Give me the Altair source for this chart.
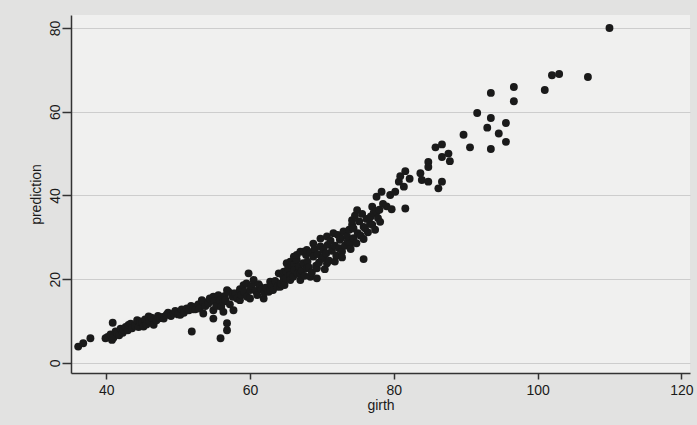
import altair as alt
import pandas as pd

girth = [
    36.1, 36.8, 37.8, 39.9, 40.2, 40.6, 40.8, 40.9, 41.0, 41.3, 41.5, 41.8, 42.0, 42.3, 42.4, 42.7,
    43.0, 43.1, 43.4, 43.6, 44.0, 44.3, 44.5, 44.7, 45.0, 45.2, 45.4, 45.6, 45.9, 46.0, 46.3, 46.6,
    47.0, 47.2, 47.5, 47.8, 48.0, 48.4, 48.6, 49.0, 49.4, 49.6, 50.0, 50.3, 50.5, 50.8, 51.2, 51.5,
    51.8, 51.9, 52.1, 52.1, 52.4, 52.8, 53.0, 53.3, 53.5, 53.5, 53.8, 54.2, 54.4, 54.9, 54.9, 54.9,
    55.0, 55.3, 55.6, 55.8, 55.9, 56.0, 56.3, 56.3, 56.5, 56.6, 56.8, 56.8, 56.8, 57.0, 57.2, 57.6,
    57.7, 57.7, 58.0, 58.2, 58.6, 58.6, 58.8, 59.1, 59.2, 59.5, 59.6, 59.8, 60.0, 60.0, 60.2, 60.5,
    60.8, 61.0, 61.2, 61.4, 61.6, 61.9, 62.0, 62.2, 62.6, 62.8, 62.8, 63.0, 63.2, 63.5, 63.8, 64.0,
    64.2, 64.3, 64.6, 64.7, 64.7, 64.8, 65.0, 65.1, 65.1, 65.3, 65.6, 65.6, 65.6, 65.8, 66.0, 66.1,
    66.1, 66.2, 66.5, 66.5, 66.6, 66.8, 67.0, 67.0, 67.0, 67.2, 67.4, 67.4, 67.6, 67.8, 67.9, 67.9,
    68.0, 68.2, 68.4, 68.4, 68.6, 68.8, 68.8, 69.0, 69.2, 69.3, 69.3, 69.4, 69.6, 69.8, 69.8, 70.0,
    70.2, 70.2, 70.4, 70.6, 70.7, 70.7, 70.8, 71.0, 71.2, 71.4, 71.6, 71.8, 71.8, 72.0, 72.2, 72.4,
    72.5, 72.6, 72.8, 72.8, 73.0, 73.2, 73.5, 73.6, 73.8, 73.9, 74.0, 74.2, 74.2, 74.4, 74.4, 74.6,
    74.8, 74.9, 75.0, 75.2, 75.4, 75.6, 75.8, 75.8, 75.8, 76.0, 76.2, 76.4, 76.7, 76.8, 77.0, 77.0,
    77.2, 77.4, 77.6, 77.6, 77.8, 78.0, 78.1, 78.3, 78.5, 79.0, 79.5, 79.7, 80.2, 80.7, 80.9, 81.4,
    81.6, 81.6, 82.2, 83.7, 83.9, 84.8, 84.8, 84.8, 85.8, 86.2, 86.7, 86.7, 86.7, 87.6, 87.8, 89.7,
    90.6, 91.6, 93.0, 93.5, 93.5, 93.5, 94.6, 95.6, 95.6, 96.7, 96.7, 101.0, 102.0, 103.0, 107.0, 110.0,
]
prediction = [
    3.9, 4.7, 5.9, 5.9, 6.2, 6.8, 5.5, 9.6, 6.0, 7.5, 7.1, 6.6, 8.2, 7.2, 7.9, 8.6,
    7.8, 9.1, 9.4, 8.3, 8.9, 10.2, 8.6, 9.9, 9.6, 8.7, 10.4, 9.2, 11.1, 10.0, 10.8, 9.1,
    10.2, 11.2, 10.7, 11.0, 10.6, 11.5, 12.0, 11.2, 11.8, 12.4, 11.6, 11.5, 12.8, 12.0, 13.0, 12.6,
    13.6, 7.5, 13.4, 12.8, 12.8, 14.0, 13.0, 15.0, 14.6, 11.8, 13.6, 14.2, 15.4, 15.8, 12.6, 10.6,
    14.8, 13.6, 16.2, 15.0, 5.9, 13.4, 14.6, 12.2, 16.0, 15.0, 17.4, 9.5, 7.8, 17.0, 14.0, 15.8,
    16.6, 12.6, 16.6, 15.4, 17.6, 15.0, 16.2, 18.6, 17.0, 19.0, 15.8, 21.4, 17.4, 15.4, 18.4, 19.8,
    17.2, 16.2, 18.8, 18.2, 17.6, 15.4, 16.8, 18.0, 17.0, 19.4, 17.4, 18.6, 17.4, 19.6, 18.2, 21.4,
    18.2, 19.0, 20.8, 21.8, 19.8, 18.6, 20.2, 23.8, 21.8, 22.6, 21.0, 24.2, 19.8, 23.4, 20.6, 25.4,
    23.4, 22.2, 24.6, 25.8, 21.4, 23.0, 26.6, 21.4, 19.8, 22.0, 23.8, 26.6, 20.8, 25.8, 27.0, 22.6,
    24.2, 22.8, 26.4, 20.6, 21.6, 28.5, 25.4, 27.2, 23.2, 22.6, 20.2, 26.0, 24.0, 29.7, 27.8, 25.0,
    27.0, 25.4, 22.4, 26.2, 30.2, 23.8, 28.2, 24.4, 29.2, 26.8, 31.0, 28.0, 24.2, 25.6, 30.6, 27.4,
    29.4, 29.8, 26.6, 25.2, 31.4, 28.0, 30.2, 29.0, 31.8, 28.5, 27.2, 33.0, 34.1, 29.8, 32.1, 35.2,
    28.6, 36.5, 31.0, 33.8, 30.4, 35.6, 29.6, 32.5, 24.8, 32.2, 34.4, 31.2, 33.3, 35.0, 33.0, 37.3,
    35.8, 31.8, 39.7, 36.1, 34.6, 36.6, 33.7, 40.9, 38.0, 37.4, 40.1, 36.7, 40.9, 43.3, 44.6, 42.1,
    45.8, 36.9, 44.0, 45.3, 43.7, 48.0, 46.8, 43.3, 51.5, 41.7, 52.2, 49.2, 43.3, 50.0, 48.2, 54.5,
    51.5, 59.7, 56.2, 64.5, 58.5, 51.1, 54.8, 57.3, 52.8, 65.9, 62.5, 65.2, 68.7, 69.0, 68.3, 80.0,
]

y_ticks = [0, 20, 40, 60, 80]
x_ticks = [40, 60, 80, 100, 120]

df = pd.DataFrame({"girth": girth, "prediction": prediction})

font = "Liberation Sans"

chart = (
    alt.Chart(df)
    .mark_circle(size=62, color="#1a1a1a", opacity=1)
    .encode(
        x=alt.X(
            "girth:Q",
            scale=alt.Scale(domain=[35.1, 121.2], nice=False, zero=False),
            axis=alt.Axis(
                values=x_ticks,
                title="girth",
                grid=False,
                tickSize=6,
                labelPadding=4,
                titlePadding=1,
            ),
        ),
        y=alt.Y(
            "prediction:Q",
            scale=alt.Scale(domain=[-2.4, 83.1], nice=False, zero=False),
            axis=alt.Axis(
                values=y_ticks,
                title="prediction",
                grid=True,
                tickSize=9,
                labelAngle=270,
                labelAlign="center",
                labelBaseline="bottom",
                labelPadding=0,
                titlePadding=5,
            ),
        ),
    )
    .properties(
        width=619,
        height=358,
        padding={"left": 71, "top": 15, "right": 7, "bottom": 52},
        autosize=alt.AutoSizeParams(type="none"),
        background="#e2e2e1",
    )
    .configure_view(fill="#f0f0ef", stroke=None)
    .configure_axis(
        labelFont=font,
        titleFont=font,
        labelFontSize=14,
        titleFontSize=14,
        titleFontWeight="normal",
        labelColor="#1a1a1a",
        titleColor="#1a1a1a",
        domainColor="#333333",
        domainWidth=1.5,
        tickColor="#333333",
        tickWidth=1.5,
        gridColor="#cdcdcd",
        gridWidth=1,
    )
)

chart.save("out.html", embed_options={"renderer": "svg", "actions": False})
